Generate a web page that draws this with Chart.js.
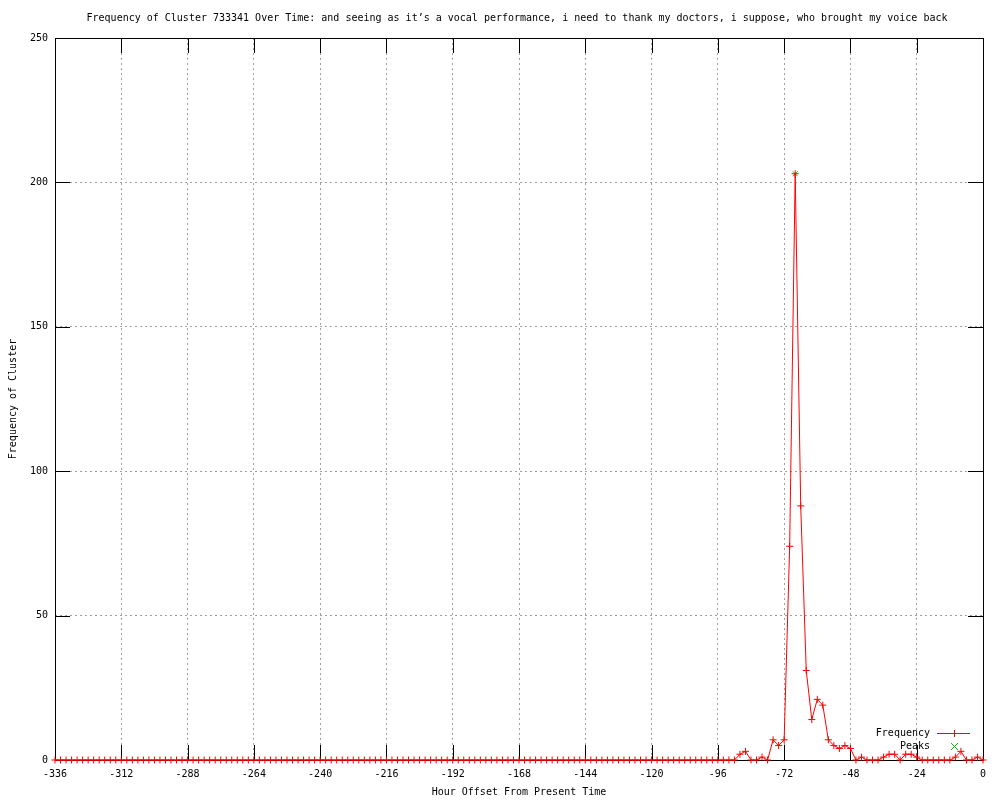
<!DOCTYPE html>
<html>
<head>
<meta charset="utf-8">
<script src="https://cdn.jsdelivr.net/npm/chart.js@4"></script>
<style>
  body { margin: 0; background: #fff; }
  #wrap { width: 1000px; height: 800px; }
</style>
</head>
<body>
<div id="wrap"><canvas id="freqChart" width="1000" height="800"></canvas></div>
<script>
// hour offsets, one point every 2 hours
const hours = [
  -336,-334,-332,-330,-328,-326,-324,-322,-320,-318,-316,-314,
  -312,-310,-308,-306,-304,-302,-300,-298,-296,-294,-292,-290,
  -288,-286,-284,-282,-280,-278,-276,-274,-272,-270,-268,-266,
  -264,-262,-260,-258,-256,-254,-252,-250,-248,-246,-244,-242,
  -240,-238,-236,-234,-232,-230,-228,-226,-224,-222,-220,-218,
  -216,-214,-212,-210,-208,-206,-204,-202,-200,-198,-196,-194,
  -192,-190,-188,-186,-184,-182,-180,-178,-176,-174,-172,-170,
  -168,-166,-164,-162,-160,-158,-156,-154,-152,-150,-148,-146,
  -144,-142,-140,-138,-136,-134,-132,-130,-128,-126,-124,-122,
  -120,-118,-116,-114,-112,-110,-108,-106,-104,-102,-100,-98,
  -96,-94,-92,-90,-88,-86,-84,-82,-80,-78,-76,-74,
  -72,-70,-68,-66,-64,-62,-60,-58,-56,-54,-52,-50,
  -48,-46,-44,-42,-40,-38,-36,-34,-32,-30,-28,-26,
  -24,-22,-20,-18,-16,-14,-12,-10,-8,-6,-4,-2,
  0
];
const frequency = [
  0,0,0,0,0,0,0,0,0,0,0,0,
  0,0,0,0,0,0,0,0,0,0,0,0,
  0,0,0,0,0,0,0,0,0,0,0,0,
  0,0,0,0,0,0,0,0,0,0,0,0,
  0,0,0,0,0,0,0,0,0,0,0,0,
  0,0,0,0,0,0,0,0,0,0,0,0,
  0,0,0,0,0,0,0,0,0,0,0,0,
  0,0,0,0,0,0,0,0,0,0,0,0,
  0,0,0,0,0,0,0,0,0,0,0,0,
  0,0,0,0,0,0,0,0,0,0,0,0,
  0,0,0,0,2,3,0,0,1,0,7,5,
  7,74,203,88,31,14,21,19,7,5,4,5,
  4,0,1,0,0,0,1,2,2,0,2,2,
  1,0,0,0,0,0,0,1,3,0,0,1,
  0
];
const peakHours = [-68];
const peakValues = [203];

const xTicks = [-336,-312,-288,-264,-240,-216,-192,-168,-144,-120,-96,-72,-48,-24,0];
const yTicks = [0,50,100,150,200,250];

const titleText = 'Frequency of Cluster 733341 Over Time: and seeing as it\u2019s a vocal performance, i need to thank my doctors, i suppose, who brought my voice back';

const FONT = "'DejaVu Sans Mono', 'Liberation Mono', monospace";

// box, inside tick marks, title and the key, gnuplot style
const framePlugin = {
  id: 'frame',
  beforeDatasetsDraw(chart) {
    const {ctx, chartArea: a, scales} = chart;
    ctx.save();
    ctx.strokeStyle = '#000';
    ctx.lineWidth = 1;
    ctx.beginPath();
    xTicks.forEach(v => {
      const px = Math.round(scales.x.getPixelForValue(v)) + 0.5;
      ctx.moveTo(px, a.bottom); ctx.lineTo(px, a.bottom - 15);
      ctx.moveTo(px, a.top); ctx.lineTo(px, a.top + 15);
    });
    yTicks.forEach(v => {
      const py = Math.round(scales.y.getPixelForValue(v)) + 0.5;
      ctx.moveTo(a.left, py); ctx.lineTo(a.left + 15, py);
      ctx.moveTo(a.right, py); ctx.lineTo(a.right - 15, py);
    });
    ctx.stroke();
    ctx.strokeRect(Math.round(a.left) + 0.5, Math.round(a.top) + 0.5,
      Math.round(a.right - a.left), Math.round(a.bottom - a.top));

    ctx.font = '10px ' + FONT;
    ctx.fillStyle = '#000';
    ctx.textAlign = 'center';
    ctx.textBaseline = 'middle';
    ctx.fillText(titleText, 517, 18);
    ctx.restore();
  },
  afterDatasetsDraw(chart) {
    const {ctx, chartArea: a} = chart;
    const textX = a.right - 53;
    const x0 = a.right - 46, x1 = a.right - 13, mx = a.right - 29;
    const y1 = a.bottom - 27, y2 = a.bottom - 14;
    ctx.save();
    ctx.font = '10px ' + FONT;
    ctx.fillStyle = '#000';
    ctx.textAlign = 'right';
    ctx.textBaseline = 'middle';
    ctx.fillText('Frequency', textX, y1);
    ctx.fillText('Peaks', textX, y2);
    ctx.lineWidth = 1;
    ctx.strokeStyle = '#ff0000';
    ctx.beginPath();
    ctx.moveTo(x0, y1 + 0.5); ctx.lineTo(x1, y1 + 0.5);
    ctx.moveTo(mx + 0.5, y1 - 3); ctx.lineTo(mx + 0.5, y1 + 4);
    ctx.stroke();
    ctx.strokeStyle = '#00c000';
    ctx.beginPath();
    ctx.moveTo(mx - 3, y2 - 3); ctx.lineTo(mx + 4, y2 + 4);
    ctx.moveTo(mx - 3, y2 + 4); ctx.lineTo(mx + 4, y2 - 3);
    ctx.stroke();
    ctx.restore();
  }
};

new Chart(document.getElementById('freqChart'), {
  type: 'line',
  data: {
    datasets: [{
      label: 'Frequency',
      data: hours.map((h, i) => ({x: h, y: frequency[i]})),
      borderColor: '#ff0000',
      borderWidth: 1,
      pointStyle: 'cross',
      pointRadius: 3.5,
      pointBorderColor: '#ff0000',
      pointBorderWidth: 1,
      tension: 0,
      clip: false
    }, {
      label: 'Peaks',
      data: peakHours.map((h, i) => ({x: h, y: peakValues[i]})),
      showLine: false,
      pointStyle: 'crossRot',
      pointRadius: 3.5,
      pointBorderColor: '#00c000',
      pointBorderWidth: 1,
      clip: false
    }]
  },
  options: {
    responsive: false,
    animation: false,
    devicePixelRatio: 1,
    layout: { padding: { left: 0, right: 17, top: 38, bottom: 0 } },
    plugins: {
      legend: { display: false },
      tooltip: { enabled: false },
      title: { display: false }
    },
    scales: {
      x: {
        type: 'linear',
        min: -336,
        max: 0,
        afterBuildTicks: s => { s.ticks = xTicks.map(v => ({value: v})); },
        afterFit: s => { s.height = 40; },
        ticks: { color: '#000', font: { family: FONT, size: 10 }, padding: 8, maxRotation: 0, autoSkip: false },
        grid: { color: '#a0a0a0', drawTicks: false },
        border: { display: false, dash: [2, 3] },
        title: {
          display: true,
          text: 'Hour Offset From Present Time',
          color: '#000',
          font: { family: FONT, size: 10 },
          padding: { top: 0, bottom: 2 }
        }
      },
      y: {
        min: 0,
        max: 250,
        afterBuildTicks: s => { s.ticks = yTicks.map(v => ({value: v})); },
        afterFit: s => { s.width = 55; },
        ticks: { color: '#000', font: { family: FONT, size: 10 }, padding: 7 },
        grid: { color: '#a0a0a0', drawTicks: false },
        border: { display: false, dash: [2, 3] },
        title: {
          display: true,
          text: 'Frequency of Cluster',
          color: '#000',
          font: { family: FONT, size: 10 },
          padding: { top: 7, bottom: 0 }
        }
      }
    }
  },
  plugins: [framePlugin]
});
</script>
</body>
</html>
